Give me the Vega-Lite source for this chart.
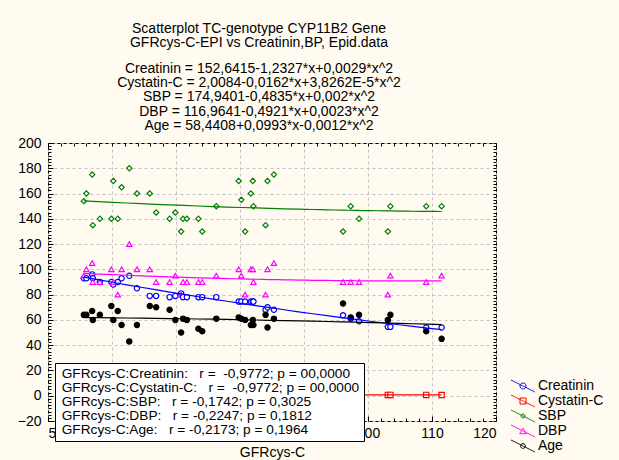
{
  "$schema": "https://vega.github.io/schema/vega-lite/v6.json",
  "width": 448,
  "height": 278,
  "autosize": {"type": "none"},
  "padding": {"left": 48, "top": 143, "right": 123, "bottom": 39},
  "background": "#FFFBF0",
  "title": {
    "text": ["Scatterplot TC-genotype CYP11B2 Gene", "GFRcys-C-EPI vs Creatinin,BP, Epid.data"],
    "subtitle": ["Creatinin = 152,6415-1,2327*x+0,0029*x^2", "Cystatin-C = 2,0084-0,0162*x+3,8262E-5*x^2", "SBP = 174,9401-0,4835*x+0,002*x^2", "DBP = 116,9641-0,4921*x+0,0023*x^2", "Age = 58,4408+0,0993*x-0,0012*x^2"],
    "font": "Liberation Sans", "fontSize": 14, "fontWeight": "normal", "lineHeight": 14.3, "color": "black",
    "subtitleFont": "Liberation Sans", "subtitleFontSize": 14, "subtitleLineHeight": 14.3, "subtitleColor": "black", "subtitlePadding": 12,
    "anchor": "middle", "frame": "group", "dx": -13, "offset": 3
  },
  "datasets": {
    "subjects": [
      {"GFR": 55.6, "Creatinin": 93, "Cystatin-C": 1.22, "SBP": 154, "DBP": 95, "Age": 64},
      {"GFR": 56.0, "Creatinin": 93, "Cystatin-C": 1.21, "SBP": 160, "DBP": 100, "Age": 64},
      {"GFR": 56.9, "Creatinin": 96, "Cystatin-C": 1.19, "SBP": 175, "DBP": 105, "Age": 67},
      {"GFR": 57.0, "Creatinin": 93, "Cystatin-C": 1.20, "SBP": 135, "DBP": 90, "Age": 60},
      {"GFR": 58.1, "Creatinin": 90, "Cystatin-C": 1.17, "SBP": 140, "DBP": 90, "Age": 64},
      {"GFR": 59.9, "Creatinin": 90, "Cystatin-C": 1.14, "SBP": 140, "DBP": 100, "Age": 71},
      {"GFR": 60.2, "Creatinin": 88, "Cystatin-C": 1.13, "SBP": 170, "DBP": 90, "Age": 60},
      {"GFR": 60.9, "Creatinin": 90, "Cystatin-C": 1.12, "SBP": 140, "DBP": 80, "Age": 67},
      {"GFR": 61.5, "Creatinin": 93, "Cystatin-C": 1.11, "SBP": 165, "DBP": 100, "Age": 56},
      {"GFR": 62.7, "Creatinin": 95, "Cystatin-C": 1.09, "SBP": 180, "DBP": 120, "Age": 43},
      {"GFR": 63.9, "Creatinin": 85, "Cystatin-C": 1.07, "SBP": 160, "DBP": 100, "Age": 56},
      {"GFR": 65.9, "Creatinin": 79, "Cystatin-C": 1.04, "SBP": 160, "DBP": 100, "Age": 71},
      {"GFR": 66.9, "Creatinin": 79, "Cystatin-C": 1.03, "SBP": 145, "DBP": 90, "Age": 70},
      {"GFR": 69.0, "Creatinin": 78, "Cystatin-C": 1.00, "SBP": 140, "DBP": 90, "Age": 68},
      {"GFR": 69.9, "Creatinin": 79, "Cystatin-C": 0.99, "SBP": 145, "DBP": 95, "Age": 60},
      {"GFR": 70.8, "Creatinin": 81, "Cystatin-C": 0.97, "SBP": 130, "DBP": 80, "Age": 50},
      {"GFR": 71.1, "Creatinin": 78, "Cystatin-C": 0.97, "SBP": 140, "DBP": 90, "Age": 61},
      {"GFR": 71.7, "Creatinin": 78, "Cystatin-C": 0.96, "SBP": 140, "DBP": 90, "Age": 60},
      {"GFR": 73.5, "Creatinin": 78, "Cystatin-C": 0.94, "SBP": 140, "DBP": 90, "Age": 53},
      {"GFR": 74.1, "Creatinin": 78, "Cystatin-C": 0.93, "SBP": 130, "DBP": 90, "Age": 51},
      {"GFR": 76.3, "Creatinin": 78, "Cystatin-C": 0.91, "SBP": 150, "DBP": 95, "Age": 61},
      {"GFR": 79.8, "Creatinin": 74.5, "Cystatin-C": 0.87, "SBP": 170, "DBP": 100, "Age": 62},
      {"GFR": 80.2, "Creatinin": 74.5, "Cystatin-C": 0.86, "SBP": 155, "DBP": 95, "Age": 61},
      {"GFR": 80.8, "Creatinin": 74.5, "Cystatin-C": 0.86, "SBP": 130, "DBP": 80, "Age": 60},
      {"GFR": 81.7, "Creatinin": 74.5, "Cystatin-C": 0.85, "SBP": 160, "DBP": 100, "Age": 56},
      {"GFR": 82.0, "Creatinin": 74.5, "Cystatin-C": 0.84, "SBP": 170, "DBP": 100, "Age": 60},
      {"GFR": 82.1, "Creatinin": 74.5, "Cystatin-C": 0.85, "SBP": 150, "DBP": 90, "Age": 56},
      {"GFR": 84.0, "Creatinin": 68, "Cystatin-C": 0.82, "SBP": 135, "DBP": 80, "Age": 64},
      {"GFR": 84.3, "Creatinin": 70, "Cystatin-C": 0.82, "SBP": 170, "DBP": 100, "Age": 54},
      {"GFR": 85.3, "Creatinin": 68, "Cystatin-C": 0.81, "SBP": 175, "DBP": 105, "Age": 61},
      {"GFR": 96.1, "Creatinin": 63.6, "Cystatin-C": 0.72, "SBP": 130, "DBP": 90, "Age": 73},
      {"GFR": 97.3, "Creatinin": 61, "Cystatin-C": 0.71, "SBP": 150, "DBP": 90, "Age": 62},
      {"GFR": 98.6, "Creatinin": 59, "Cystatin-C": 0.70, "SBP": 140, "DBP": 90, "Age": 64},
      {"GFR": 103.1, "Creatinin": 54.5, "Cystatin-C": 0.67, "SBP": 130, "DBP": 80, "Age": 60},
      {"GFR": 103.5, "Creatinin": 54.5, "Cystatin-C": 0.67, "SBP": 150, "DBP": 95, "Age": 64},
      {"GFR": 109.1, "Creatinin": 54, "Cystatin-C": 0.64, "SBP": 150, "DBP": 90, "Age": 51},
      {"GFR": 111.5, "Creatinin": 54, "Cystatin-C": 0.63, "SBP": 150, "DBP": 95, "Age": 45}
    ],
    "stats": [
      {"stat": "GFRcys-C:Creatinin:\u00a0\u00a0\u00a0r =\u00a0\u00a0-0,9772; p = 00,0000"},
      {"stat": "GFRcys-C:Cystatin-C:\u00a0\u00a0\u00a0r =\u00a0\u00a0-0,9772; p = 00,0000"},
      {"stat": "GFRcys-C:SBP:\u00a0\u00a0\u00a0r = -0,1742; p = 0,3025"},
      {"stat": "GFRcys-C:DBP:\u00a0\u00a0\u00a0r = -0,2247; p = 0,1812"},
      {"stat": "GFRcys-C:Age:\u00a0\u00a0\u00a0r = -0,2173; p = 0,1964"}
    ]
  },
  "layer": [
    {
      "data": {"name": "subjects"},
      "transform": [{"fold": ["Creatinin", "Cystatin-C", "SBP", "DBP", "Age"], "as": ["series", "value"]}],
      "mark": {"type": "point", "filled": true, "size": 28, "strokeWidth": 1.2, "opacity": 1},
      "encoding": {
        "x": {"field": "GFR", "type": "quantitative", "scale": {"domain": [50, 120], "nice": false, "zero": false},
          "axis": {"orient": "bottom", "values": [50, 60, 70, 80, 90, 100, 110, 120], "grid": true, "gridDash": [3, 3], "gridColor": "#C4C4C4", "domain": false, "tickSize": -5, "tickColor": "black", "labelFont": "Liberation Sans", "labelFontSize": 14, "labelColor": "black", "labelPadding": 10, "title": "GFRcys-C", "titleFont": "Liberation Sans", "titleFontSize": 14, "titleFontWeight": "normal", "titleColor": "black", "titlePadding": 5}},
        "y": {"field": "value", "type": "quantitative", "scale": {"domain": [-20, 200], "nice": false, "zero": false},
          "axis": {"orient": "left", "values": [-20, 0, 20, 40, 60, 80, 100, 120, 140, 160, 180, 200], "grid": true, "gridDash": [3, 3], "gridColor": "#C4C4C4", "domain": false, "tickSize": -5, "tickColor": "black", "labelFont": "Liberation Sans", "labelFontSize": 14, "labelColor": "black", "labelPadding": 12, "title": null}},
        "stroke": {"field": "series", "type": "nominal",
          "scale": {"domain": ["Creatinin", "Cystatin-C", "SBP", "DBP", "Age"], "range": ["#0000FF", "#FF0000", "#008000", "#FF00FF", "#000000"]}, "legend": null},
        "fill": {"field": "series", "type": "nominal",
          "scale": {"domain": ["Creatinin", "Cystatin-C", "SBP", "DBP", "Age"], "range": ["white", "white", "white", "white", "black"]}, "legend": null},
        "shape": {"field": "series", "type": "nominal",
          "scale": {"domain": ["Creatinin", "Cystatin-C", "SBP", "DBP", "Age"], "range": ["circle", "square", "diamond", "triangle-up", "circle"]}, "legend": null}
      }
    },
    {
      "data": {"name": "subjects"},
      "transform": [
        {"fold": ["Creatinin", "Cystatin-C", "SBP", "DBP", "Age"], "as": ["series", "value"]},
        {"regression": "value", "on": "GFR", "groupby": ["series"], "method": "poly", "order": 2}
      ],
      "mark": {"type": "line", "strokeWidth": 1.2},
      "encoding": {
        "x": {"field": "GFR", "type": "quantitative", "scale": {"domain": [50, 120], "nice": false, "zero": false},
          "axis": {"orient": "bottom", "values": [50, 52, 54, 56, 58, 60, 62, 64, 66, 68, 70, 72, 74, 76, 78, 80, 82, 84, 86, 88, 90, 92, 94, 96, 98, 100, 102, 104, 106, 108, 110, 112, 114, 116, 118, 120], "labels": false, "grid": false, "domain": false, "tickSize": -3, "tickColor": "black", "title": null}},
        "y": {"field": "value", "type": "quantitative", "scale": {"domain": [-20, 200], "nice": false, "zero": false},
          "axis": {"orient": "left", "values": [-20, -17.5, -15, -12.5, -10, -7.5, -5, -2.5, 0, 2.5, 5, 7.5, 10, 12.5, 15, 17.5, 20, 22.5, 25, 27.5, 30, 32.5, 35, 37.5, 40, 42.5, 45, 47.5, 50, 52.5, 55, 57.5, 60, 62.5, 65, 67.5, 70, 72.5, 75, 77.5, 80, 82.5, 85, 87.5, 90, 92.5, 95, 97.5, 100, 102.5, 105, 107.5, 110, 112.5, 115, 117.5, 120, 122.5, 125, 127.5, 130, 132.5, 135, 137.5, 140, 142.5, 145, 147.5, 150, 152.5, 155, 157.5, 160, 162.5, 165, 167.5, 170, 172.5, 175, 177.5, 180, 182.5, 185, 187.5, 190, 192.5, 195, 197.5, 200], "labels": false, "grid": false, "domain": false, "tickSize": -3, "tickColor": "black", "title": null}},
        "stroke": {"field": "series", "type": "nominal",
          "scale": {"domain": ["Creatinin", "Cystatin-C", "SBP", "DBP", "Age"], "range": ["#0000FF", "#FF0000", "#008000", "#FF00FF", "#000000"]}, "legend": null}
      }
    },
    {
      "data": {"name": "subjects"},
      "transform": [{"fold": ["Creatinin", "Cystatin-C", "SBP", "DBP", "Age"], "as": ["series", "value"]}],
      "mark": {"type": "point", "opacity": 0},
      "encoding": {
        "x": {"field": "GFR", "type": "quantitative", "scale": {"domain": [50, 120], "nice": false, "zero": false},
          "axis": {"orient": "top", "values": [50, 52, 54, 56, 58, 60, 62, 64, 66, 68, 70, 72, 74, 76, 78, 80, 82, 84, 86, 88, 90, 92, 94, 96, 98, 100, 102, 104, 106, 108, 110, 112, 114, 116, 118, 120], "labels": false, "grid": false, "domain": false, "tickSize": -3, "tickColor": "black", "title": null}},
        "y": {"field": "SBP", "type": "quantitative", "scale": {"domain": [-20, 200], "nice": false, "zero": false},
          "axis": {"orient": "right", "values": [-20, -17.5, -15, -12.5, -10, -7.5, -5, -2.5, 0, 2.5, 5, 7.5, 10, 12.5, 15, 17.5, 20, 22.5, 25, 27.5, 30, 32.5, 35, 37.5, 40, 42.5, 45, 47.5, 50, 52.5, 55, 57.5, 60, 62.5, 65, 67.5, 70, 72.5, 75, 77.5, 80, 82.5, 85, 87.5, 90, 92.5, 95, 97.5, 100, 102.5, 105, 107.5, 110, 112.5, 115, 117.5, 120, 122.5, 125, 127.5, 130, 132.5, 135, 137.5, 140, 142.5, 145, 147.5, 150, 152.5, 155, 157.5, 160, 162.5, 165, 167.5, 170, 172.5, 175, 177.5, 180, 182.5, 185, 187.5, 190, 192.5, 195, 197.5, 200], "labels": false, "grid": false, "domain": false, "tickSize": -3, "tickColor": "black", "title": null}},
        "strokeDash": {"field": "series", "type": "nominal", "sort": null,
          "scale": {"range": [[1, 0], [1, 0], [1, 0], [1, 0], [1, 0]]},
          "legend": {"orient": "none", "legendX": 468, "legendY": 236, "title": null, "padding": 0, "labelFont": "Liberation Sans", "labelFontSize": 14, "labelColor": "black", "symbolSize": 144, "symbolOpacity": 1, "labelOffset": 8, "rowPadding": -2.7, "symbolStrokeWidth": 1,
            "symbolType": {"expr": "datum.value === 'Creatinin' ? 'M-2,-1L2,1M0.5,0A0.5,0.5,0,1,1,-0.5,0A0.5,0.5,0,1,1,0.5,0' : datum.value === 'Cystatin-C' ? 'M-2,-1L2,1M-0.5,-0.5L0.5,-0.5L0.5,0.5L-0.5,0.5Z' : datum.value === 'SBP' ? 'M-2,-1L2,1M0.33,0A0.33,0.33,0,1,1,-0.33,0A0.33,0.33,0,1,1,0.33,0' : datum.value === 'DBP' ? 'M-2,-1L2,1M0,-0.5L0.55,0.45L-0.55,0.45Z' : 'M-2,-1L2,1M0.4,0A0.4,0.4,0,1,1,-0.4,0A0.4,0.4,0,1,1,0.4,0'"},
            "symbolStrokeColor": {"expr": "datum.value === 'Creatinin' ? '#0000FF' : datum.value === 'Cystatin-C' ? '#FF0000' : datum.value === 'SBP' ? '#008000' : datum.value === 'DBP' ? '#FF00FF' : '#000000'"},
            "symbolFillColor": {"expr": "datum.value === 'DBP' ? '#FF00FF' : datum.value === 'Age' ? '#000000' : 'white'"}}}
      }
    },
    {
      "data": {"name": "stats"},
      "mark": {"type": "point", "opacity": 0},
      "encoding": {
        "strokeDash": {"field": "stat", "type": "nominal", "sort": null,
          "legend": {"orient": "none", "legendX": 7, "legendY": 220, "title": null, "fillColor": "white", "strokeColor": "black", "padding": 4, "labelFont": "Liberation Sans", "labelFontSize": 13.7, "labelColor": "black", "labelLimit": 600, "symbolSize": 0, "symbolOpacity": 0, "symbolStrokeWidth": 0, "labelOffset": -11, "rowPadding": -2.2, "zindex": 5}}
      }
    }
  ],
  "resolve": {"scale": {"strokeDash": "independent"}, "axis": {"x": "independent", "y": "independent"}},
  "config": {
    "view": {"stroke": "black", "strokeWidth": 1, "fill": "white"},
    "font": "Liberation Sans"
  }
}
